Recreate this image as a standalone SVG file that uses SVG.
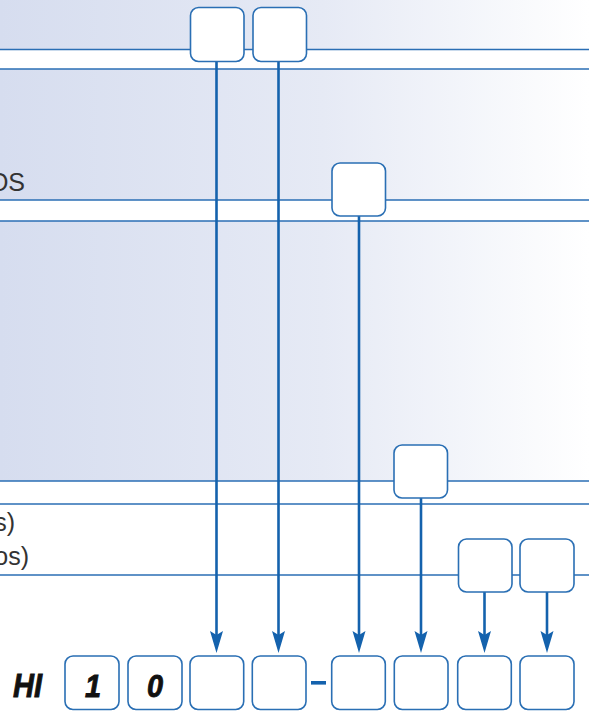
<svg xmlns="http://www.w3.org/2000/svg" width="589" height="712" viewBox="0 0 589 712">
  <defs>
    <linearGradient id="bg" x1="0" y1="0" x2="589" y2="0" gradientUnits="userSpaceOnUse">
      <stop offset="0" stop-color="#d6ddef"/>
      <stop offset="0.55" stop-color="#e6eaf5"/>
      <stop offset="1" stop-color="#ffffff"/>
    </linearGradient>
    <marker id="arr" markerUnits="userSpaceOnUse" viewBox="-11 -7 24 14" refX="0" refY="0" markerWidth="24" markerHeight="14" orient="auto">
      <path d="M12,0 L-10,-6.5 L-6,0 L-10,6.5 Z" fill="#1462ad"/>
    </marker>
    <style>
      .band { fill: #ffffff; }
      .hline { stroke: #2a6eb4; stroke-width: 1.4; fill: none; }
      .box { fill: #ffffff; stroke: #2a6fb4; stroke-width: 1.6; }
      .conn { stroke: #1462ad; stroke-width: 2.6; fill: none; marker-end: url(#arr); }
      .lbl { font-family: "Liberation Sans", Arial, sans-serif; font-size: 25px; fill: #333333; }
      .code { font-family: "Liberation Sans", Arial, sans-serif; font-weight: bold; font-style: italic; fill: #111111; stroke: #111111; stroke-width: 0.9; }
    </style>
  </defs>

  <!-- background -->
  <g id="background">
    <rect x="0" y="0" width="589" height="481" fill="url(#bg)"/>
    <rect class="band" x="0" y="49.5" width="589" height="19.5"/>
    <rect class="band" x="0" y="200" width="589" height="21"/>
    <rect class="band" x="0" y="481" width="589" height="231"/>
    <line class="hline" x1="0" y1="49.5" x2="589" y2="49.5"/>
    <line class="hline" x1="0" y1="69" x2="589" y2="69"/>
    <line class="hline" x1="0" y1="200" x2="589" y2="200"/>
    <line class="hline" x1="0" y1="221" x2="589" y2="221"/>
    <line class="hline" x1="0" y1="481" x2="589" y2="481"/>
    <line class="hline" x1="0" y1="504" x2="589" y2="504"/>
    <line class="hline" x1="0" y1="575" x2="589" y2="575"/>
  </g>

  <!-- labels (cut by left edge, as in the reference) -->
  <g id="labels">
    <text class="lbl" x="25" y="191" text-anchor="end">OS</text>
    <text class="lbl" x="15" y="531" text-anchor="end">s)</text>
    <text class="lbl" x="29" y="564.5" text-anchor="end">os)</text>
  </g>

  <!-- connectors -->
  <g id="connectors">
    <line class="conn" x1="216.5" y1="62" x2="216.5" y2="641"/>
    <line class="conn" x1="278.5" y1="62" x2="278.5" y2="641"/>
    <line class="conn" x1="359" y1="216" x2="359" y2="641"/>
    <line class="conn" x1="421" y1="498" x2="421" y2="641"/>
    <line class="conn" x1="484.5" y1="592" x2="484.5" y2="641"/>
    <line class="conn" x1="547" y1="592" x2="547" y2="641"/>
    <rect id="dash" x="311" y="681" width="15" height="3.6" fill="#1462ad"/>
  </g>

  <!-- source nodes -->
  <g id="src1"><rect class="box" x="190.5" y="7.5" width="53.5" height="54" rx="8"/></g>
  <g id="src2"><rect class="box" x="253" y="7.5" width="53.5" height="54" rx="8"/></g>
  <g id="src3"><rect class="box" x="332" y="163" width="53.5" height="53" rx="8"/></g>
  <g id="src4"><rect class="box" x="394" y="445" width="53.5" height="53" rx="8"/></g>
  <g id="src5"><rect class="box" x="458.5" y="539" width="53.5" height="53" rx="8"/></g>
  <g id="src6"><rect class="box" x="520" y="539" width="54" height="53" rx="8"/></g>

  <!-- code row -->
  <g id="prefix"><text class="code" transform="translate(13,697) scale(0.88,1)" x="0" y="0" font-size="33">HI</text></g>
  <g id="d1"><rect class="box" x="65" y="656" width="54" height="53.5" rx="8"/><text class="code" transform="translate(93,697) scale(0.9,1)" x="0" y="0" font-size="32" text-anchor="middle">1</text></g>
  <g id="d2"><rect class="box" x="128" y="656" width="54" height="53.5" rx="8"/><text class="code" transform="translate(155,697) scale(0.9,1)" x="0" y="0" font-size="32" text-anchor="middle">0</text></g>
  <g id="d3"><rect class="box" x="190" y="656" width="53.7" height="53.5" rx="8"/></g>
  <g id="d4"><rect class="box" x="252.3" y="656" width="53.7" height="53.5" rx="8"/></g>
  <g id="d5"><rect class="box" x="331.7" y="656" width="53.6" height="53.5" rx="8"/></g>
  <g id="d6"><rect class="box" x="394.3" y="656" width="53.7" height="53.5" rx="8"/></g>
  <g id="d7"><rect class="box" x="457.7" y="656" width="53.6" height="53.5" rx="8"/></g>
  <g id="d8"><rect class="box" x="520" y="656" width="54" height="53.5" rx="8"/></g>
</svg>
